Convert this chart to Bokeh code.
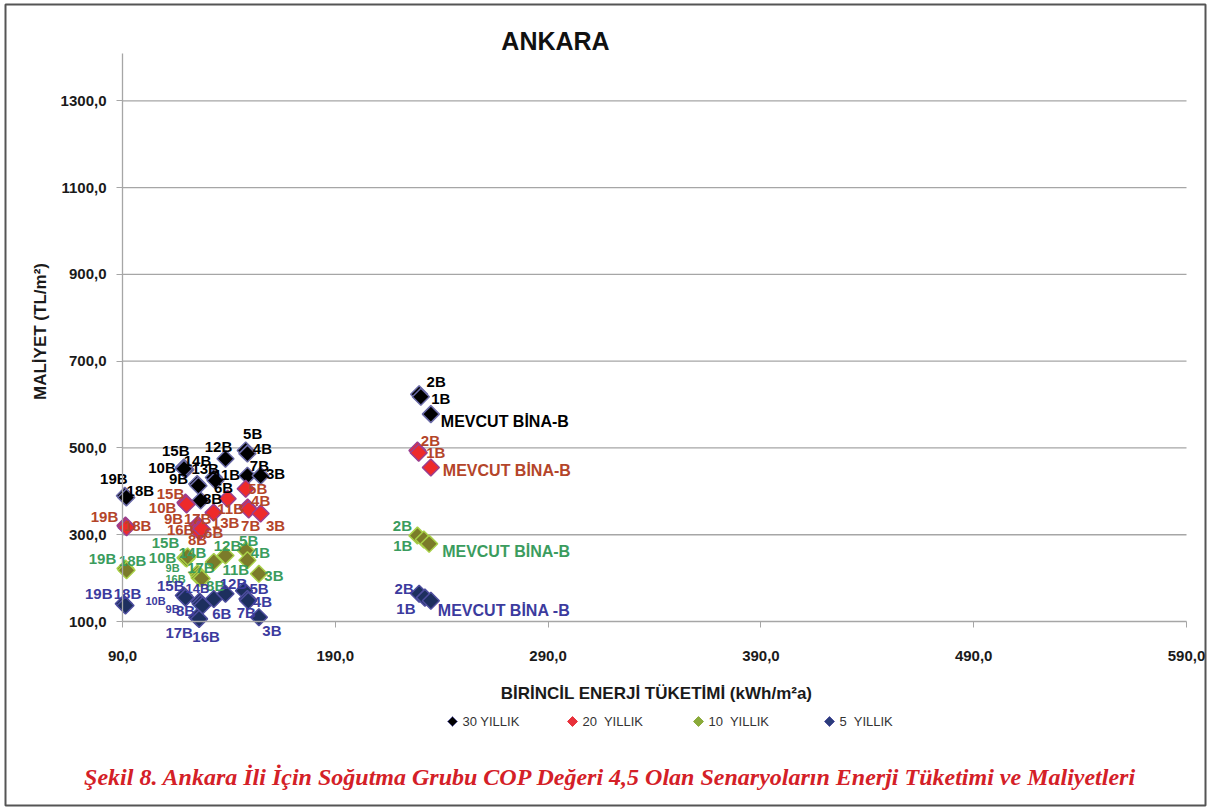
import numpy as np
from bokeh.plotting import figure
from bokeh.models import ColumnDataSource, FixedTicker, Label
from bokeh.core.properties import value
from bokeh.embed import file_html
from bokeh.resources import INLINE

# ---------------- data ----------------
x_ticks = [90, 190, 290, 390, 490, 590]
x_tick_labels = ["90,0", "190,0", "290,0", "390,0", "490,0", "590,0"]
y_ticks = [100, 300, 500, 700, 900, 1100, 1300]
y_tick_labels = ["100,0", "300,0", "500,0", "700,0", "900,0", "1100,0", "1300,0"]

series_names = ["30 YILLIK", "20\u00a0 YILLIK", "10\u00a0 YILLIK", "5\u00a0 YILLIK"]

lab_30 = ["19B", "18B", "15B", "14B", "10B", "13B", "9B", "11B", "6B", "8B", "12B",
          "5B", "4B", "7B", "3B", "2B", "1B", "MEVCUT BİNA-B"]
x_30 = [91.1, 91.8, 118.8, 119.6, 118.9, 125.1, 125.7, 132.9, 133.7, 126.7, 138.4,
        147.9, 148.7, 148.7, 154.9, 229.4, 230.2, 234.9]
y_30 = [390, 386, 455, 450, 452, 417, 413, 432, 425, 379, 475,
        494, 487, 436, 436, 624, 618, 578]

lab_20 = ["19B", "18B", "15B", "10B", "9B", "17B", "16B", "8B", "6B", "13B", "11B",
          "5B", "4B", "7B", "3B", "2B", "1B", "MEVCUT BİNA-B"]
x_20 = [91.4, 91.9, 119.6, 120.1, 125.3, 125.8, 125.8, 126.2, 127.2, 132.8, 139.4,
        147.9, 148.8, 149.3, 154.9, 228.6, 229.2, 234.9]
y_20 = [321, 317, 374, 370, 323, 319, 312, 307, 314, 351, 383,
        406, 363, 358, 349, 494, 489, 455]

lab_10 = ["19B", "18B", "15B", "10B", "14B", "12B", "5B", "4B", "11B", "9B", "17B",
          "16B", "8B", "3B", "2B", "1B", "MEVCUT BİNA-B"]
x_10 = [91.4, 91.9, 119.6, 120.1, 120.6, 138.4, 147.9, 148.7, 132.9, 125.3, 125.9,
        126.2, 127.2, 154.1, 228.6, 231.6, 234.1]
y_10 = [222, 218, 247, 245, 250, 252, 264, 241, 237, 211, 206,
        201, 199, 210, 298, 289, 279]

lab_5 = ["19B", "18B", "15B", "10B", "14B", "9B", "8B", "6B", "12B", "5B", "4B",
         "7B", "3B", "17B", "16B", "2B", "1B", "MEVCUT BİNA -B"]
x_5 = [90.6, 91.4, 118.8, 119.6, 126.2, 126.7, 127.6, 132.9, 138.4, 147.1, 148.7,
       149.1, 154.1, 125.1, 126.0, 229.4, 232.1, 234.9]
y_5 = [141, 137, 160, 155, 146, 141, 137, 152, 164, 171, 152,
       148, 110, 110, 106, 164, 155, 148]

# ---------------- label layout (screen px offsets, sizes) ----------------
off_30 = [(-11, -17), (14, -7), (-8, -17), (12, -9), (-22, -1), (8, -15), (-20, -7), (13, -3),
          (8, 7), (12, -2), (-7, -12), (7, -17), (15, -5), (12, -10), (15, -2), (17, -13),
          (20, 2), (10, 7)]
off_20 = [(-21, -9), (11, -2), (-15, -9), (-24, 3), (-24, -6), (-1, -8), (-18, 0), (-2, 8),
          (12, 4), (12, 10), (3, 10), (12, 0), (13, -7), (2, 16), (15, 12), (13, -10),
          (17, 0), (12, 3)]
off_10 = [(-23, -10), (6, -10), (-20, -15), (-24, -1), (5, -4), (2, -10), (3, -10), (13, -8),
          (22, 7), (-25, -5), (2, -8), (-24, 1), (14, 7), (15, 2), (-15, -10), (-21, 6), (13, 8)]
off_5 = [(-25, -10), (2, -12), (-13, -10), (-30, 3), (-2, -13), (-28, 5), (-17, 5), (8, 15),
         (8, -10), (15, -2), (15, 3), (-2, 12), (13, 13), (-18, 15), (7, 18), (-15, -5),
         (-19, 11), (7, 10)]
small_10 = {"9B": "11px", "16B": "11px"}
small_5 = {"10B": "11px", "9B": "11px", "14B": "13px"}

FONT = "Liberation Sans"

# ---------------- layout: the frame covers the whole canvas ----------------
W, H = 1208, 807
FL, FR, FT = 122, 1186, 57        # page pixels of x=90, x=590 and y=1400
PX_AX = 621                       # page pixel of y=100 (x axis)
X0, X1, YTOP, YAX = 90, 590, 1400, 100
xpp = (X1 - X0) / (FR - FL)
ypp = (YTOP - YAX) / (PX_AX - FT)


def page_to_data(px, py):
    return X0 + (px - FL) * xpp, YAX - (py - PX_AX) * ypp


xr = (page_to_data(0, 0)[0], page_to_data(W, 0)[0])
yr = (page_to_data(0, H)[1], page_to_data(0, 0)[1])

p = figure(width=W, height=H, x_range=xr, y_range=yr, title=None,
           output_backend="svg", toolbar_location=None,
           min_border_left=0, min_border_right=0, min_border_top=0, min_border_bottom=0)
p.outline_line_color = None
p.background_fill_color = "white"
p.border_fill_color = "white"

# axes
p.xaxis.ticker = FixedTicker(ticks=x_ticks)
p.xaxis.major_label_overrides = dict(zip(x_ticks, x_tick_labels))
p.xaxis.fixed_location = YAX
p.xaxis.bounds = (X0, X1)
p.yaxis.ticker = FixedTicker(ticks=y_ticks)
p.yaxis.major_label_overrides = dict(zip(y_ticks, y_tick_labels))
p.yaxis.fixed_location = X0
p.yaxis.bounds = (YAX, 1410)
for ax in (p.xaxis, p.yaxis):
    ax.axis_line_color = "#a6a6a6"
    ax.axis_line_width = 1.3
    ax.major_tick_line_color = "#a6a6a6"
    ax.major_tick_out = 6
    ax.major_tick_in = 0
    ax.minor_tick_line_color = None
    ax.major_label_text_font = FONT
    ax.major_label_text_font_style = "bold"
    ax.major_label_text_font_size = "15px"
    ax.major_label_text_color = "#1a1a1a"
p.xaxis.major_label_standoff = 23
p.yaxis.major_label_standoff = 10

# horizontal gridlines limited to the plot area
p.xgrid.visible = False
p.ygrid.visible = False
grid_y = y_ticks[1:]
p.segment(x0=[X0] * len(grid_y), x1=[X1] * len(grid_y), y0=grid_y, y1=grid_y,
          line_color="#a6a6a6", line_width=1.3)

# outer frame of the figure
bx0, by1 = page_to_data(5, 4)
bx1, by0 = page_to_data(1205, 805)
p.quad(left=[bx0], right=[bx1], bottom=[by0], top=[by1], fill_color=None,
       line_color="#555555", line_width=2)

series = [
    (lab_30, x_30, y_30, off_30, {}, "#000000", "#6b6ba8", "#000000"),
    (lab_20, x_20, y_20, off_20, {}, "#ee2a2a", "#9a3f8f", "#b4452a"),
    (lab_10, x_10, y_10, off_10, small_10, "#7b7b2a", "#a8d048", "#3b9c5e"),
    (lab_5, x_5, y_5, off_5, small_5, "#1d2f5e", "#4d4d9e", "#3c3b9e"),
]

label_sources = []
for labs, xs, ys, offs, smalls, fill, line, tcol in series:
    src = ColumnDataSource(dict(x=xs, y=ys))
    p.scatter("x", "y", source=src, marker="square", angle=np.pi / 4, size=12,
              fill_color=fill, line_color=line, line_width=1.5)
    lsrc = ColumnDataSource(dict(
        x=xs, y=ys, text=labs,
        dx=[o[0] for o in offs], dy=[o[1] for o in offs],
        align=["left" if l.startswith("MEVCUT") else "center" for l in labs],
        fs=[smalls.get(l, "16px" if l.startswith("MEVCUT") else "15px") for l in labs],
    ))
    label_sources.append((lsrc, tcol))

for lsrc, tcol in label_sources:
    p.text("x", "y", text="text", source=lsrc, x_offset="dx", y_offset="dy",
           text_align="align", text_baseline="middle", text_font_size="fs",
           text_font=value(FONT), text_font_style="bold", text_color=tcol)

# legend below the x axis (diamond key + text), placed in page pixels
legend_px = [452, 572, 698, 829]
legend_py = 721
legend_fill = ["#000000", "#e8303a", "#8aaa3a", "#2b3d7a"]
legend_line = ["#6b6ba8", "#e8303a", "#8aaa3a", "#4d4d9e"]
lg = [page_to_data(px, legend_py) for px in legend_px]
lt = [page_to_data(px + 10, legend_py) for px in legend_px]
p.scatter(x=[a for a, b in lg], y=[b for a, b in lg], marker="square", angle=np.pi / 4,
          size=7, fill_color=legend_fill, line_color=legend_line, line_width=1)
p.text(x=[a for a, b in lt], y=[b for a, b in lt], text=series_names,
       text_align="left", text_baseline="middle", text_font=value(FONT),
       text_font_size="13px", text_color="#333333")


def add_label(text, px, py, size, color="#1a1a1a", style="bold", font=FONT, angle=0.0):
    lx, ly = page_to_data(px, py)
    p.add_layout(Label(x=lx, y=ly, text=text, text_align="center", text_baseline="middle",
                       text_font=font, text_font_size=size, text_font_style=style,
                       text_color=color, angle=angle))


add_label("ANKARA", 555, 40, "25px", color="#111111")
add_label("MALİYET (TL/m²)", 40, 331, "17px", angle=np.pi / 2)
add_label("BİRİNCİL ENERJİ TÜKETİMİ (kWh/m²a)", 656, 693, "17px")
add_label("Şekil 8. Ankara İli İçin Soğutma Grubu COP Değeri 4,5 Olan Senaryoların Enerji Tüketimi ve Maliyetleri",
          610, 776, "24px", color="#d42027", style="bold italic", font="Liberation Serif")

open("out.html", "w").write(file_html(p, INLINE))
